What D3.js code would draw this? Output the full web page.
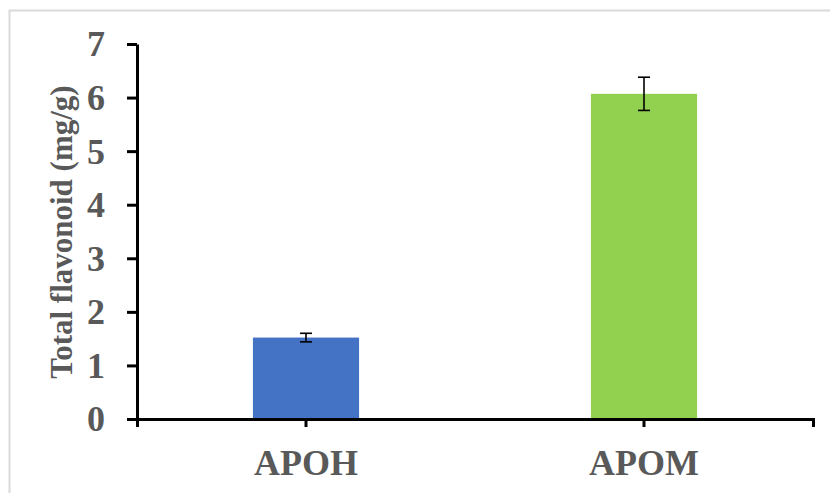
<!DOCTYPE html>
<html>
<head>
<meta charset="utf-8">
<script src="https://cdn.jsdelivr.net/npm/d3@7"></script>
<style>
  html, body { margin: 0; padding: 0; background: #fff; }
  svg { display: block; }
  text { font-family: "Liberation Serif", "Times New Roman", serif; font-weight: bold; fill: #595959; }
</style>
</head>
<body>
<svg id="chart" width="830" height="493"></svg>
<script>
const categories = ["APOH", "APOM"];
const values = [1.52, 6.07];
const errors = [0.08, 0.31];
const colors = ["#4472C4", "#92D050"];
const yTicks = [0, 1, 2, 3, 4, 5, 6, 7];
const yTitle = "Total flavonoid (mg/g)";

const W = 830, H = 493;
const margin = { left: 137, right: 17, top: 44, bottom: 74 };
const svg = d3.select("#chart");

// outer chart frame
svg.append("rect")
  .attr("x", 9.5).attr("y", 10.5)
  .attr("width", W).attr("height", H)
  .attr("fill", "none").attr("stroke", "#d9d9d9").attr("stroke-width", 2);

const x = d3.scaleBand()
  .domain(categories)
  .range([margin.left, W - margin.right])
  .paddingInner(0.686)
  .paddingOuter(0.343);

const y = d3.scaleLinear()
  .domain([0, 7])
  .range([H - margin.bottom, margin.top]);

// bars
svg.append("g").selectAll("rect")
  .data(categories)
  .join("rect")
  .attr("x", d => x(d))
  .attr("width", x.bandwidth())
  .attr("y", (d, i) => y(values[i]))
  .attr("height", (d, i) => y(0) - y(values[i]))
  .attr("fill", (d, i) => colors[i]);

// error bars
const eb = svg.append("g").attr("stroke", "#000").attr("stroke-width", 1.6);
categories.forEach((c, i) => {
  const cx = x(c) + x.bandwidth() / 2;
  const hi = y(values[i] + errors[i]), lo = y(values[i] - errors[i]);
  eb.append("line").attr("x1", cx).attr("x2", cx).attr("y1", hi).attr("y2", lo);
  eb.append("line").attr("x1", cx - 6).attr("x2", cx + 6).attr("y1", hi).attr("y2", hi);
  eb.append("line").attr("x1", cx - 6).attr("x2", cx + 6).attr("y1", lo).attr("y2", lo);
});

// y axis
const yAxis = svg.append("g")
  .attr("transform", `translate(${margin.left},0)`)
  .call(d3.axisLeft(y).tickValues(yTicks).tickFormat(d3.format("d")).tickSize(10).tickSizeOuter(0));
yAxis.select(".domain").attr("stroke", "#000").attr("stroke-width", 3);
yAxis.selectAll(".tick line").attr("stroke", "#000").attr("stroke-width", 3);
yAxis.selectAll(".tick text")
  .attr("x", -32).attr("dy", "0.33em")
  .style("font-size", "36px").style("font-family", "Liberation Serif, serif")
  .style("font-weight", "bold").attr("fill", "#595959");

// x axis
const xAxis = svg.append("g")
  .attr("transform", `translate(0,${y(0)})`)
  .call(d3.axisBottom(x).tickSize(8).tickSizeOuter(8));
xAxis.select(".domain").attr("stroke", "#000").attr("stroke-width", 3).attr("fill", "none");
xAxis.selectAll(".tick line").attr("stroke", "#000").attr("stroke-width", 3);
xAxis.selectAll(".tick text")
  .attr("y", 56).attr("dy", 0)
  .style("font-size", "36px").style("font-family", "Liberation Serif, serif")
  .style("font-weight", "bold").attr("fill", "#595959");

// y title
svg.append("text")
  .attr("transform", `translate(72,232) rotate(-90)`)
  .attr("text-anchor", "middle")
  .style("font-size", "31px")
  .text(yTitle);
</script>
</body>
</html>
